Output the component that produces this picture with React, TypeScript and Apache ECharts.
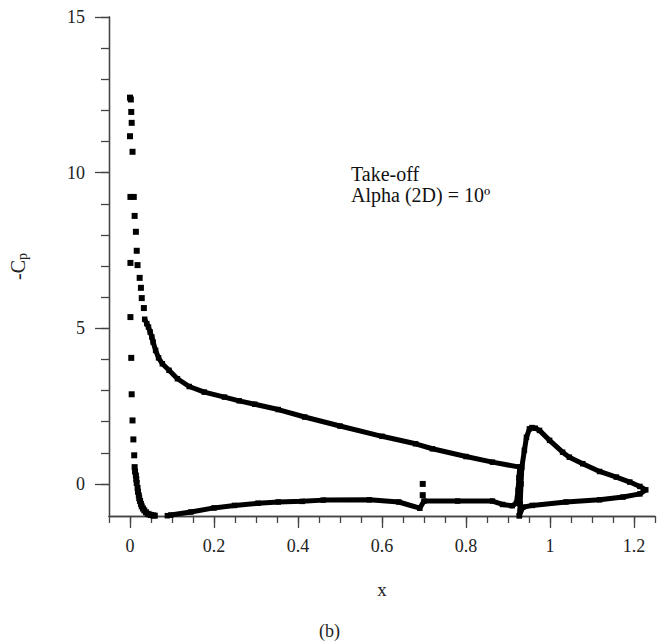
import React, { useEffect, useRef } from "react";
import * as echarts from "echarts";

// ---- data ----
const leadingEdgePoints: [number, number][] = [
  [0.0, 12.41], [0.002, 12.35], [0.003, 11.95], [0.004, 11.6], [0.0, 11.17], [0.006, 10.67],
  [0.001, 9.22], [0.009, 9.22], [0.011, 8.61], [0.014, 8.1], [0.016, 7.49], [0.001, 7.1],
  [0.018, 7.03], [0.023, 6.62], [0.026, 6.3], [0.028, 5.97], [0.033, 5.65], [0.001, 5.36],
  [0.003, 4.05], [0.004, 2.88], [0.006, 2.04], [0.008, 1.43], [0.01, 0.92], [0.011, 0.54],
  [0.012, 0.4], [0.014, 0.27], [0.015, 0.15], [0.016, 0.03], [0.018, -0.13], [0.019, -0.25],
  [0.021, -0.37], [0.022, -0.46], [0.024, -0.55], [0.026, -0.64], [0.028, -0.72], [0.031, -0.79],
  [0.034, -0.85], [0.038, -0.91], [0.042, -0.96], [0.046, -0.98], [0.05, -1.0], [0.055, -1.01],
  [0.059, -1.02],
];

const mainUpper: [number, number][] = [
  [0.035, 5.29], [0.04, 5.15], [0.044, 5.04], [0.048, 4.88], [0.052, 4.72], [0.055, 4.56],
  [0.061, 4.29], [0.068, 4.05], [0.077, 3.86], [0.093, 3.65], [0.113, 3.38], [0.141, 3.13],
  [0.177, 2.95], [0.225, 2.79], [0.26, 2.67], [0.297, 2.56], [0.353, 2.39], [0.416, 2.15],
  [0.5, 1.86], [0.6, 1.53], [0.68, 1.29], [0.72, 1.13], [0.8, 0.88], [0.863, 0.7], [0.928, 0.54],
];

const mainLower: [number, number][] = [
  [0.089, -1.02], [0.097, -1.0], [0.145, -0.9], [0.2, -0.77], [0.249, -0.69], [0.305, -0.62],
  [0.353, -0.58], [0.41, -0.56], [0.46, -0.52], [0.57, -0.51], [0.64, -0.58], [0.69, -0.78],
  [0.7, -0.55], [0.78, -0.55], [0.863, -0.55], [0.887, -0.66], [0.91, -0.7], [0.92, -0.62],
  [0.924, -0.2], [0.926, 0.2], [0.928, 0.54],
];

const spikePoints: [number, number][] = [
  [0.697, 0.0], [0.697, -0.36],
];

const flapPoints: [number, number][] = [
  [0.927, -1.02], [0.929, -0.64], [0.931, 0.0], [0.933, 0.54], [0.939, 1.08], [0.944, 1.5],
  [0.951, 1.77], [0.957, 1.81], [0.965, 1.79], [0.975, 1.72], [0.999, 1.4], [1.03, 1.02],
  [1.046, 0.86], [1.078, 0.65], [1.118, 0.4], [1.158, 0.22], [1.19, 0.06], [1.214, -0.08],
  [1.228, -0.19], [1.214, -0.32], [1.174, -0.42], [1.118, -0.51], [1.038, -0.58], [0.958, -0.69],
  [0.935, -0.75], [0.927, -1.02],
];

const xMajorTicks = [0, 0.2, 0.4, 0.6, 0.8, 1, 1.2];
const xMinorTicks = [
  -0.05, 0, 0.05, 0.1, 0.15, 0.2, 0.25, 0.3, 0.35, 0.4, 0.45, 0.5, 0.55, 0.6, 0.65,
  0.7, 0.75, 0.8, 0.85, 0.9, 0.95, 1, 1.05, 1.1, 1.15, 1.2, 1.25,
];
const yMajorTicks = [0, 5, 10, 15];
const yMinorTicks = [0, 1, 2, 3, 4, 5, 6, 7, 8, 9, 10, 11, 12, 13, 14, 15];

const FONT = "'Liberation Serif', 'Times New Roman', serif";
const AXIS_COLOR = "#444";
const LABEL_COLOR = "#222";

export default function App() {
  const ref = useRef<HTMLDivElement>(null);

  useEffect(() => {
    if (!ref.current) return;
    const chart = echarts.init(ref.current, undefined, { renderer: "svg" });

    const lineStyleSeries = (name: string, data: [number, number][]) => ({
      name,
      type: "line",
      data,
      xAxisIndex: 0,
      yAxisIndex: 0,
      symbol: "rect",
      symbolSize: 5.5,
      showSymbol: true,
      itemStyle: { color: "#000", opacity: 1 },
      lineStyle: { color: "#000", width: 5 },
      clip: false,
      z: 5,
    });

    const scatterSeries = (name: string, data: [number, number][]) => ({
      name,
      type: "scatter",
      data,
      xAxisIndex: 0,
      yAxisIndex: 0,
      symbol: "rect",
      symbolSize: 6,
      itemStyle: { color: "#000", opacity: 1 },
      clip: false,
      z: 5,
    });

    chart.setOption({
      animation: false,
      backgroundColor: "#fff",
      textStyle: { fontFamily: FONT },
      grid: { left: 108, right: 8, top: 17, bottom: 128, containLabel: false },
      xAxis: [
        {
          type: "value",
          min: -0.05,
          max: 1.25,
          position: "bottom",
          name: "x",
          nameLocation: "middle",
          nameGap: 64,
          nameTextStyle: { fontFamily: FONT, fontSize: 19, color: LABEL_COLOR },
          axisLine: { show: true, onZero: false, lineStyle: { color: AXIS_COLOR, width: 1.3 } },
          axisTick: {
            show: true,
            inside: false,
            length: 12,
            customValues: xMajorTicks,
            lineStyle: { color: AXIS_COLOR, width: 1.3 },
          },
          axisLabel: {
            show: true,
            customValues: xMajorTicks,
            margin: 21,
            fontFamily: FONT,
            fontSize: 18,
            color: LABEL_COLOR,
          },
          splitLine: { show: false },
        },
        {
          type: "value",
          min: -0.05,
          max: 1.25,
          position: "bottom",
          offset: 0,
          axisLine: { show: true, onZero: false, lineStyle: { color: AXIS_COLOR, width: 1.3 } },
          axisTick: {
            show: true,
            inside: false,
            length: 7,
            customValues: xMinorTicks,
            lineStyle: { color: AXIS_COLOR, width: 1.3 },
          },
          axisLabel: { show: false },
          splitLine: { show: false },
        },
      ],
      yAxis: [
        {
          type: "value",
          min: -1.03,
          max: 15,
          position: "left",
          name: "-C{sub|p}",
          nameLocation: "middle",
          nameGap: 80,
          nameTextStyle: {
            fontFamily: FONT,
            fontSize: 20,
            color: LABEL_COLOR,
            rich: {
              sub: { fontFamily: FONT, fontSize: 14, color: LABEL_COLOR, padding: [8, 0, 0, 0] },
            },
          },
          axisLine: { show: true, onZero: false, lineStyle: { color: AXIS_COLOR, width: 1.3 } },
          axisTick: {
            show: true,
            inside: false,
            length: 14,
            customValues: yMajorTicks,
            lineStyle: { color: AXIS_COLOR, width: 1.3 },
          },
          axisLabel: {
            show: true,
            customValues: yMajorTicks,
            margin: 24,
            fontFamily: FONT,
            fontSize: 18,
            color: LABEL_COLOR,
          },
          splitLine: { show: false },
        },
        {
          type: "value",
          min: -1.03,
          max: 15,
          position: "left",
          offset: 0,
          axisLine: { show: true, onZero: false, lineStyle: { color: AXIS_COLOR, width: 1.3 } },
          axisTick: {
            show: true,
            inside: false,
            length: 8,
            customValues: yMinorTicks,
            lineStyle: { color: AXIS_COLOR, width: 1.3 },
          },
          axisLabel: { show: false },
          splitLine: { show: false },
        },
      ],
      graphic: [
        {
          type: "text",
          left: 351,
          top: 163,
          style: {
            text: "Take-off\nAlpha (2D) = 10º",
            font: `20px ${FONT}`,
            lineHeight: 21,
            fill: "#111",
          },
        },
        {
          type: "text",
          left: 319,
          top: 622,
          style: {
            text: "(b)",
            font: `18px ${FONT}`,
            fill: "#222",
          },
        },
      ],
      series: [
        scatterSeries("Leading edge", leadingEdgePoints),
        lineStyleSeries("Main upper", mainUpper),
        lineStyleSeries("Main lower", mainLower),
        scatterSeries("Spike", spikePoints),
        lineStyleSeries("Flap", flapPoints),
      ],
    });

    return () => chart.dispose();
  }, []);

  return (
    <div
      ref={ref}
      style={{ position: "absolute", left: 0, top: 0, width: 663, height: 644 }}
    />
  );
}
